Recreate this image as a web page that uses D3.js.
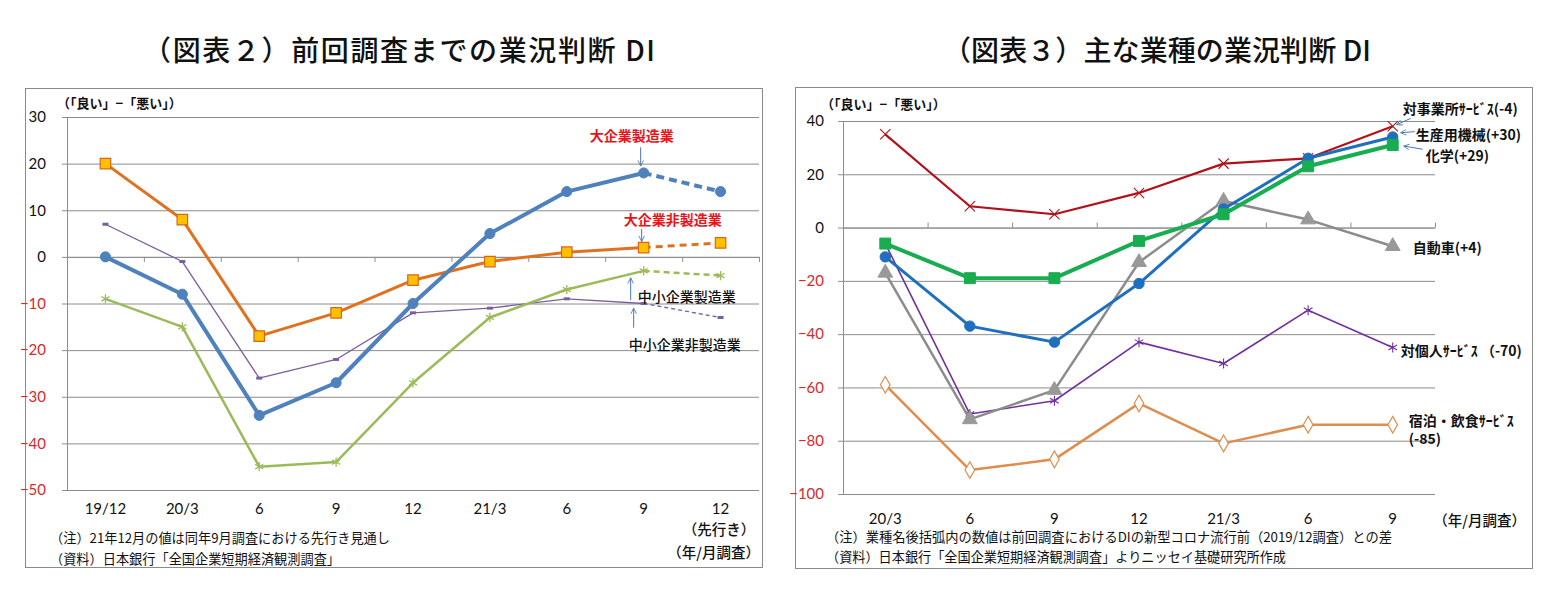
<!DOCTYPE html>
<html>
<head>
<meta charset="utf-8">
<script src="https://cdn.jsdelivr.net/npm/d3@7"></script>
<style>
  body { margin: 0; background: #fff; }
  svg text { font-family: "Noto Sans CJK JP", "Noto Sans", sans-serif; }
  .num { font-family: Lato, "Noto Sans", sans-serif; font-size: 15px; }
</style>
</head>
<body>
<svg id="chart" width="1552" height="615"></svg>
<script>
// left chart: 業況判断DI (大企業/中小企業)
const leftCats = ["19/12", "20/3", "6", "9", "12", "21/3", "6", "9", "12"];
const largeMfg = [0, -8, -34, -27, -10, 5, 14, 18, 14];
const largeNonMfg = [20, 8, -17, -12, -5, -1, 1, 2, 3];
const smallMfg = [-9, -15, -45, -44, -27, -13, -7, -3, -4];
const smallNonMfg = [7, -1, -26, -22, -12, -11, -9, -10, -13];
const leftTicks = [30, 20, 10, 0, -10, -20, -30, -40, -50];

// right chart: 主な業種
const rightCats = ["20/3", "6", "9", "12", "21/3", "6", "9"];
const bizServices = [35, 8, 5, 13, 24, 26, 38];
const machinery = [-11, -37, -43, -21, 7, 26, 34];
const chemicals = [-6, -19, -19, -5, 5, 23, 31];
const autos = [-17, -72, -61, -13, 10, 3, -7];
const personalServices = [-6, -70, -65, -43, -51, -31, -45];
const hospitality = [-59, -91, -87, -66, -81, -74, -74];
const rightTicks = [40, 20, 0, -20, -40, -60, -80, -100];

const svg = d3.select("#chart");
const gridColor = "#8c8c8c";
const negColor = "#d42a2a";

let defs = svg.append("defs");
defs.append("marker")
    .attr("id", "arrow")
    .attr("viewBox", "0 0 10 10")
    .attr("refX", 9).attr("refY", 5)
    .attr("markerWidth", 7).attr("markerHeight", 7)
    .attr("orient", "auto-start-reverse")
    .append("path")
    .attr("d", "M1,1 L9,5 L1,9")
    .attr("fill", "none")
    .attr("stroke", "#4a76b0")
    .attr("stroke-width", 1.2);

function frame(x0, y0, x1, y1) {
    svg.append("rect")
        .attr("x", x0 + 0.5).attr("y", y0 + 0.5)
        .attr("width", x1 - x0).attr("height", y1 - y0)
        .attr("fill", "none").attr("stroke", "#8a8a8a");
}

function axes(cfg) {
    let { x, y, ticks, cats, zeroTicks } = cfg;
    let [x0, x1] = x.range();
    let w = x1 - x0;

    // gridlines
    svg.append("g")
        .attr("transform", "translate(" + x0 + ",0)")
        .call(d3.axisLeft(y).tickValues(ticks).tickSize(-w).tickFormat(""))
        .call(g => g.select(".domain").remove())
        .selectAll("line").attr("stroke", gridColor);

    // y axis with labels
    let ya = svg.append("g")
        .attr("transform", "translate(" + x0 + ",0)")
        .call(d3.axisLeft(y).tickValues(ticks).tickSize(5).tickPadding(cfg.pad).tickSizeOuter(0));
    ya.select(".domain").attr("stroke", gridColor);
    ya.selectAll("line").attr("stroke", gridColor);
    ya.selectAll("text")
        .attr("class", "num")
        .attr("fill", d => d < 0 ? negColor : "#111");

    // category axis at 0 with ticks on band boundaries
    let b = d3.scaleLinear().domain([0, cats.length]).range([x0, x1]);
    let ax = zeroTicks === "down" ? d3.axisBottom(b) : d3.axisTop(b);
    let za = svg.append("g")
        .attr("transform", "translate(0," + y(0) + ")")
        .call(ax.tickValues(d3.range(cats.length + 1)).tickSize(5).tickSizeOuter(0).tickFormat(""));
    za.selectAll("line, path").attr("stroke", gridColor);

    // category labels
    let ca = svg.append("g")
        .attr("transform", "translate(0," + cfg.labelY + ")")
        .call(d3.axisBottom(x).tickSize(0).tickFormat(i => cats[i]));
    ca.select(".domain").remove();
    ca.selectAll("text").attr("class", "num").attr("fill", "#111");
}

function series(x, y, values, st) {
    let cx = i => x(i) + x.bandwidth() / 2;
    let line = d3.line().x((d, i) => cx(i)).y(d => y(d));
    let g = svg.append("g");
    let solidN = st.dashLast ? values.length - 1 : values.length;
    g.append("path")
        .datum(values.slice(0, solidN))
        .attr("d", line)
        .attr("fill", "none")
        .attr("stroke", st.color)
        .attr("stroke-width", st.width)
        .attr("stroke-linejoin", "round");
    if (st.dashLast) {
        let n = values.length;
        g.append("path")
            .datum(values.slice(n - 2))
            .attr("d", d3.line().x((d, i) => cx(n - 2 + i)).y(d => y(d)))
            .attr("fill", "none")
            .attr("stroke", st.color)
            .attr("stroke-width", st.width)
            .attr("stroke-dasharray", st.dash);
    }
    if (st.marker === "dash") {
        g.selectAll("rect.mk")
            .data(values)
            .enter().append("rect")
            .attr("x", (d, i) => cx(i) - 3)
            .attr("y", d => y(d) - 1.5)
            .attr("width", 6).attr("height", 3)
            .attr("fill", st.color);
        return;
    }
    g.selectAll("path.mk")
        .data(values)
        .enter().append("path")
        .attr("class", "mk")
        .attr("transform", (d, i) => "translate(" + cx(i) + "," + y(d) + ")")
        .attr("d", d3.symbol().type(st.marker).size(st.size))
        .attr("fill", st.fill)
        .attr("stroke", st.stroke)
        .attr("stroke-width", st.sw);
}

function label(x, yy, txt, opt) {
    opt = opt || {};
    svg.append("text")
        .attr("x", x).attr("y", yy)
        .attr("font-size", opt.size || 13)
        .attr("font-weight", opt.bold ? 700 : 500)
        .attr("fill", opt.color || "#111")
        .attr("text-anchor", opt.anchor || "start")
        .text(txt);
}

function arrow(x1, y1, x2, y2) {
    svg.append("line")
        .attr("x1", x1).attr("y1", y1).attr("x2", x2).attr("y2", y2)
        .attr("stroke", "#4a76b0").attr("stroke-width", 1)
        .attr("marker-end", "url(#arrow)");
}

function note(x, yy, txt, len) {
    svg.append("text")
        .attr("x", x).attr("y", yy)
        .attr("font-size", 13.5)
        .attr("fill", "#111")
        .attr("textLength", len)
        .attr("lengthAdjust", "spacingAndGlyphs")
        .text(txt);
}

// ---------- titles ----------
svg.append("text").attr("x", 143).attr("y", 61)
    .attr("font-size", 28).attr("font-weight", 500).attr("fill", "#111")
    .attr("textLength", 512).attr("lengthAdjust", "spacing")
    .text("（図表２）前回調査までの業況判断 DI");
svg.append("text").attr("x", 943).attr("y", 61)
    .attr("font-size", 28).attr("font-weight", 500).attr("fill", "#111")
    .attr("textLength", 428).attr("lengthAdjust", "spacing")
    .text("（図表３）主な業種の業況判断 DI");

// ---------- left chart ----------
frame(25, 88, 762, 567);
let xL = d3.scaleBand().domain(d3.range(leftCats.length)).range([67, 759]);
let yL = d3.scaleLinear().domain([-50, 30]).range([490, 117]);
axes({ x: xL, y: yL, ticks: leftTicks, cats: leftCats, zeroTicks: "down", labelY: 500, pad: 16 });

series(xL, yL, smallNonMfg, { color: "#7a5fa0", width: 1.3, marker: "dash", dashLast: true, dash: "4,3" });
series(xL, yL, smallMfg, { color: "#9bbb59", width: 2.5, marker: d3.symbolAsterisk, size: 60, fill: "none", stroke: "#9bbb59", sw: 1.3, dashLast: true, dash: "6,4" });
series(xL, yL, largeNonMfg, { color: "#e0711f", width: 3, marker: d3.symbolSquare, size: 110, fill: "#ffc000", stroke: "#d8661a", sw: 1.2, dashLast: true, dash: "7,5" });
series(xL, yL, largeMfg, { color: "#4f81bd", width: 4, marker: d3.symbolCircle, size: 80, fill: "#4f81bd", stroke: "#4f81bd", sw: 1, dashLast: true, dash: "8,5" });

label(xL.range()[0] - 10, 108, "（「良い」−「悪い」）", { size: 13, bold: true });
let ax7 = xL(7) + xL.bandwidth() / 2;
label(ax7 - 12, yL(26) + 5, "大企業製造業", { color: "#e8141c", bold: true, size: 14, anchor: "middle" });
arrow(ax7 - 3, yL(23.5), ax7 - 3, yL(19.5));
label(ax7 + 29, yL(8) + 5, "大企業非製造業", { color: "#e8141c", bold: true, size: 14, anchor: "middle" });
arrow(ax7 - 2, yL(6), ax7 - 2, yL(3.3));
label(ax7 - 6, yL(-8.5) + 5, "中小企業製造業", { size: 14 });
arrow(ax7 - 13, yL(-9.3), ax7 - 13, yL(-4.5));
label(ax7 - 15, yL(-18.8) + 5, "中小企業非製造業", { size: 14 });
arrow(ax7 - 10, yL(-15.2), ax7 - 10, yL(-11));

label(719, 535, "（先行き）", { size: 14.5, anchor: "middle" });
label(760, 558, "（年/月調査）", { size: 14.5, anchor: "end" });
note(50, 543, "（注）21年12月の値は同年9月調査における先行き見通し", 340);
note(50, 564, "（資料）日本銀行「全国企業短期経済観測調査」", 290);

// ---------- right chart ----------
frame(795, 87, 1532, 568);
let xR = d3.scaleBand().domain(d3.range(rightCats.length)).range([843, 1435]);
let yR = d3.scaleLinear().domain([-100, 40]).range([494, 121]);
axes({ x: xR, y: yR, ticks: rightTicks, cats: rightCats, zeroTicks: "up", labelY: 510, pad: 14 });

series(xR, yR, hospitality, { color: "#dd8e4e", width: 2.5, marker: d3.symbolDiamond, size: 80, fill: "#fff", stroke: "#dd8e4e", sw: 1.2 });
series(xR, yR, personalServices, { color: "#7030a0", width: 1.6, marker: d3.symbolAsterisk, size: 70, fill: "none", stroke: "#7030a0", sw: 1.1 });
series(xR, yR, autos, { color: "#8c8c8c", width: 2.5, marker: d3.symbolTriangle, size: 95, fill: "#999", stroke: "#999", sw: 1 });
series(xR, yR, bizServices, { color: "#b0121b", width: 2.2, marker: d3.symbolX, size: 70, fill: "none", stroke: "#b0121b", sw: 1.1 });
series(xR, yR, machinery, { color: "#1f6fbf", width: 3, marker: d3.symbolCircle, size: 85, fill: "#1f6fbf", stroke: "#1f6fbf", sw: 1 });
series(xR, yR, chemicals, { color: "#18ad50", width: 4, marker: d3.symbolSquare, size: 120, fill: "#18ad50", stroke: "#18ad50", sw: 1 });

label(xR.range()[0] - 22, 109, "（「良い」−「悪い」）", { size: 13, bold: true });
let bx6 = xR(6) + xR.bandwidth() / 2;
label(bx6 + 10, yR(44.5) + 5, "対事業所ｻｰﾋﾞｽ(-4)", { bold: true, size: 14 });
arrow(bx6 + 18, yR(41), bx6 + 4, yR(38.6));
label(bx6 + 23, yR(34.8) + 5, "生産用機械(+30)", { bold: true, size: 14 });
arrow(bx6 + 22, yR(36), bx6 + 8, yR(35.6));
label(bx6 + 33, yR(27) + 5, "化学(+29)", { bold: true, size: 14 });
arrow(bx6 + 30, yR(29.4), bx6 + 11, yR(30.6));
label(bx6 + 20, yR(-7.8) + 5, "自動車(+4)", { bold: true, size: 14 });
label(bx6 + 8, yR(-46.5) + 5, "対個人ｻｰﾋﾞｽ （-70)", { bold: true, size: 14 });
label(bx6 + 16, yR(-72.5) + 5, "宿泊・飲食ｻｰﾋﾞｽ", { bold: true, size: 14 });
label(bx6 + 16, yR(-79.3) + 5, "(-85)", { bold: true, size: 14 });

label(1526, 526, "（年/月調査）", { size: 14.5, anchor: "end" });
note(826, 542, "（注）業種名後括弧内の数値は前回調査におけるDIの新型コロナ流行前（2019/12調査）との差", 566);
note(826, 562, "（資料）日本銀行「全国企業短期経済観測調査」よりニッセイ基礎研究所作成", 460);
</script>
</body>
</html>
